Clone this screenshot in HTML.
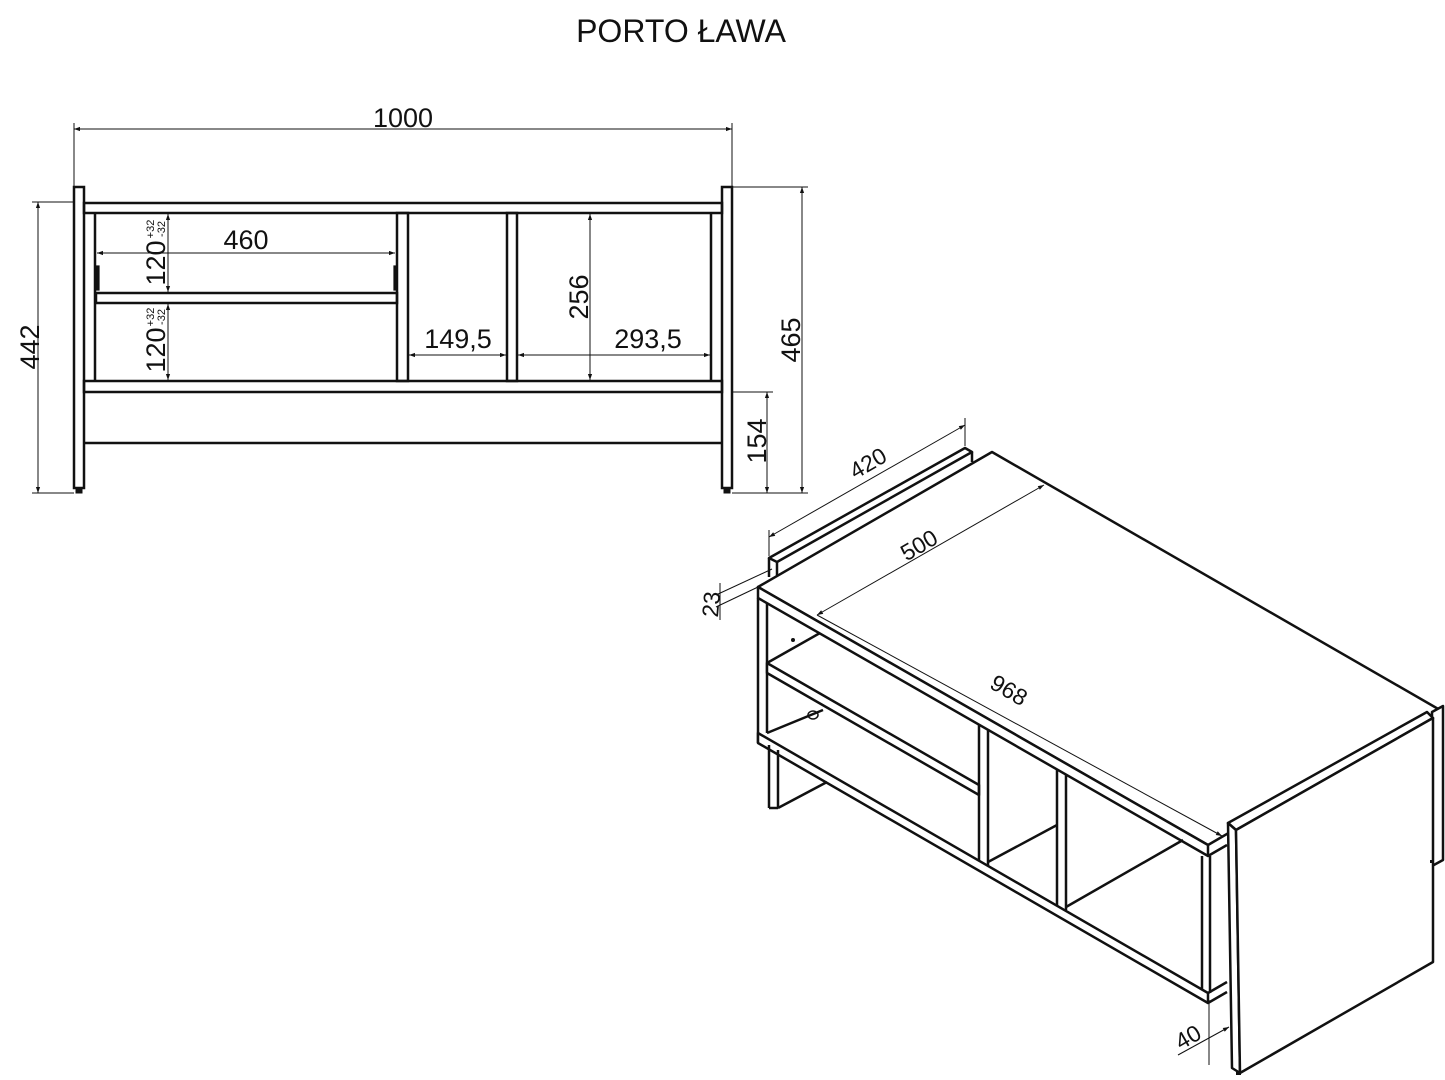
<!DOCTYPE html>
<html><head><meta charset="utf-8"><style>
html,body{margin:0;padding:0;background:#fff;}
svg{display:block;}
text{font-family:"Liberation Sans","DejaVu Sans",sans-serif;fill:#111;}
</style></head><body>
<svg width="1445" height="1080" viewBox="0 0 1445 1080" xmlns="http://www.w3.org/2000/svg">
<defs>
<marker id="a" viewBox="0 0 10 10" refX="10" refY="5" markerWidth="8" markerHeight="6" orient="auto-start-reverse" markerUnits="userSpaceOnUse"><path d="M0,1.5 L10,5 L0,8.5 z" fill="#111"/></marker>
</defs>
<text x="681" y="42" font-size="32" text-anchor="middle">PORTO ŁAWA</text>

<!-- FRONT VIEW -->
<g fill="none" stroke="#111" stroke-width="2.5">
  <rect x="74" y="187" width="10" height="301"/>
  <rect x="722" y="187" width="10" height="301"/>
  <rect x="76" y="488" width="6" height="5" fill="#111" stroke-width="1"/>
  <rect x="724" y="488" width="6" height="5" fill="#111" stroke-width="1"/>
  <rect x="84" y="203" width="638" height="10"/>
  <rect x="84" y="381" width="638" height="11"/>
  <line x1="84" y1="443" x2="722" y2="443"/>
  <line x1="95" y1="213" x2="95" y2="381"/>
  <line x1="711" y1="213" x2="711" y2="381"/>
  <rect x="397" y="213" width="11" height="168"/>
  <rect x="507" y="213" width="10" height="168"/>
  <rect x="96" y="293" width="301" height="10"/>
</g>
<g stroke="#111" stroke-width="1.2" fill="#111">
  <rect x="96" y="266" width="3" height="24"/>
  <rect x="394" y="266" width="3" height="24"/>
</g>
<g stroke="#111" stroke-width="1" fill="none">
  <line x1="74" y1="123" x2="74" y2="187"/><line x1="732" y1="123" x2="732" y2="187"/>
  <line x1="74" y1="129" x2="732" y2="129" marker-start="url(#a)" marker-end="url(#a)"/>
  <line x1="32" y1="202" x2="74" y2="202"/><line x1="32" y1="493" x2="74" y2="493"/>
  <line x1="38" y1="202" x2="38" y2="493" marker-start="url(#a)" marker-end="url(#a)"/>
  <line x1="732" y1="187" x2="808" y2="187"/><line x1="732" y1="493" x2="808" y2="493"/>
  <line x1="802" y1="187" x2="802" y2="493" marker-start="url(#a)" marker-end="url(#a)"/>
  <line x1="732" y1="392" x2="773" y2="392"/>
  <line x1="767" y1="392" x2="767" y2="493" marker-start="url(#a)" marker-end="url(#a)"/>
  <line x1="97" y1="253" x2="395" y2="253" marker-start="url(#a)" marker-end="url(#a)"/>
  <line x1="168" y1="214" x2="168" y2="292" marker-start="url(#a)" marker-end="url(#a)"/>
  <line x1="168" y1="304" x2="168" y2="380" marker-start="url(#a)" marker-end="url(#a)"/>
  <line x1="409" y1="355" x2="506" y2="355" marker-start="url(#a)" marker-end="url(#a)"/>
  <line x1="518" y1="355" x2="710" y2="355" marker-start="url(#a)" marker-end="url(#a)"/>
  <line x1="590" y1="214" x2="590" y2="380" marker-start="url(#a)" marker-end="url(#a)"/>
</g>
<g font-size="27">
  <text x="403" y="127" text-anchor="middle">1000</text>
  <text x="246" y="249" text-anchor="middle">460</text>
  <text x="458" y="348" text-anchor="middle">149,5</text>
  <text x="648" y="348" text-anchor="middle">293,5</text>
  <text transform="translate(39,347) rotate(-90)" text-anchor="middle">442</text>
  <text transform="translate(800,340) rotate(-90)" text-anchor="middle">465</text>
  <text transform="translate(766,441) rotate(-90)" text-anchor="middle">154</text>
  <text transform="translate(588,297) rotate(-90)" text-anchor="middle">256</text>
  <text transform="translate(165,263) rotate(-90)" text-anchor="middle">120</text>
  <text transform="translate(165,350) rotate(-90)" text-anchor="middle">120</text>
</g>
<g font-size="11">
  <text transform="translate(154,229) rotate(-90)" text-anchor="middle">+32</text>
  <text transform="translate(165,229) rotate(-90)" text-anchor="middle">-32</text>
  <text transform="translate(154,317) rotate(-90)" text-anchor="middle">+32</text>
  <text transform="translate(165,317) rotate(-90)" text-anchor="middle">-32</text>
</g>

<!-- ISOMETRIC VIEW -->
<g fill="none" stroke="#111" stroke-width="2.5" stroke-linejoin="round">
  <polygon points="769,558 965,448 972,452 777,562" fill="#fff"/>
  <line x1="769" y1="558" x2="769" y2="577"/>
  <line x1="777" y1="562" x2="777" y2="580"/>
  <line x1="972" y1="452" x2="972" y2="462"/>
  <line x1="777" y1="580" x2="972" y2="466"/>
  <polygon points="758,587 992,452 1440,710 1208,845" fill="#fff"/>
  <polygon points="758,587 1208,845 1208,856 758,598" fill="#fff"/>
  <line x1="1208" y1="856" x2="1227" y2="845"/>
  <line x1="758" y1="598" x2="758" y2="743"/>
  <line x1="767" y1="603" x2="767" y2="733"/>
  <line x1="767" y1="663" x2="820" y2="633"/>
  <line x1="767" y1="733" x2="823" y2="710"/>
  <polygon points="767,663 979,785 979,795 767,673" fill="#fff"/>
  <line x1="979" y1="724" x2="979" y2="864"/>
  <line x1="988" y1="729" x2="988" y2="868"/>
  <line x1="988" y1="862" x2="1057" y2="825"/>
  <line x1="1057" y1="769" x2="1057" y2="906"/>
  <line x1="1066" y1="774" x2="1066" y2="910"/>
  <line x1="1066" y1="907" x2="1183" y2="840"/>
  <line x1="1202" y1="856" x2="1202" y2="993"/>
  <line x1="1210" y1="856" x2="1210" y2="993"/>
  <polygon points="758,733 1208,993 1208,1003 758,743" fill="#fff"/>
  <line x1="1208" y1="1003" x2="1227" y2="992"/>
  <line x1="1208" y1="993" x2="1227" y2="982"/>
  <line x1="769" y1="745" x2="769" y2="808"/>
  <line x1="778" y1="750" x2="778" y2="808"/>
  <line x1="769" y1="808" x2="778" y2="808"/>
  <line x1="778" y1="808" x2="827" y2="782"/>
  <polygon points="1432,712 1443,706 1443,860 1432,866" fill="#fff"/>
  <polygon points="1228,823 1427,712 1433,718 1236,830" fill="#fff"/>
  <polygon points="1228,823 1236,830 1240,1073 1232,1068" fill="#fff"/>
  <polygon points="1236,830 1433,718 1433,962 1240,1073" fill="#fff"/>
</g>
<g fill="#111">
  <circle cx="793" cy="640" r="2"/>
  <ellipse cx="813" cy="715" rx="5" ry="4" fill="none" stroke="#111" stroke-width="1.5"/>
  <rect x="1430" y="860" width="4" height="3"/>
  <rect x="1236" y="1072" width="5" height="3"/>
</g>
<g stroke="#111" stroke-width="1" fill="none">
  <line x1="769" y1="530" x2="769" y2="556"/>
  <line x1="965" y1="418" x2="965" y2="446"/>
  <line x1="769" y1="537" x2="965" y2="425" marker-start="url(#a)" marker-end="url(#a)"/>
  <line x1="817" y1="615" x2="1044" y2="485" marker-start="url(#a)" marker-end="url(#a)"/>
  <line x1="817" y1="615" x2="1222" y2="836" marker-end="url(#a)"/>
  <line x1="716" y1="595" x2="772" y2="569"/>
  <line x1="716" y1="607" x2="758" y2="587"/>
  <line x1="720" y1="583" x2="720" y2="620"/>
  <line x1="1209" y1="1000" x2="1209" y2="1065"/>
  <line x1="1178" y1="1055" x2="1229" y2="1027" marker-end="url(#a)"/>
</g>
<g font-size="23">
  <text transform="translate(872,470) rotate(-30)" text-anchor="middle">420</text>
  <text transform="translate(923,552) rotate(-30)" text-anchor="middle">500</text>
  <text transform="translate(1005,697) rotate(30)" text-anchor="middle">968</text>
  <text transform="translate(719,605) rotate(-85)" text-anchor="middle">23</text>
  <text transform="translate(1192,1044) rotate(-30)" text-anchor="middle">40</text>
</g>
</svg>
</body></html>
